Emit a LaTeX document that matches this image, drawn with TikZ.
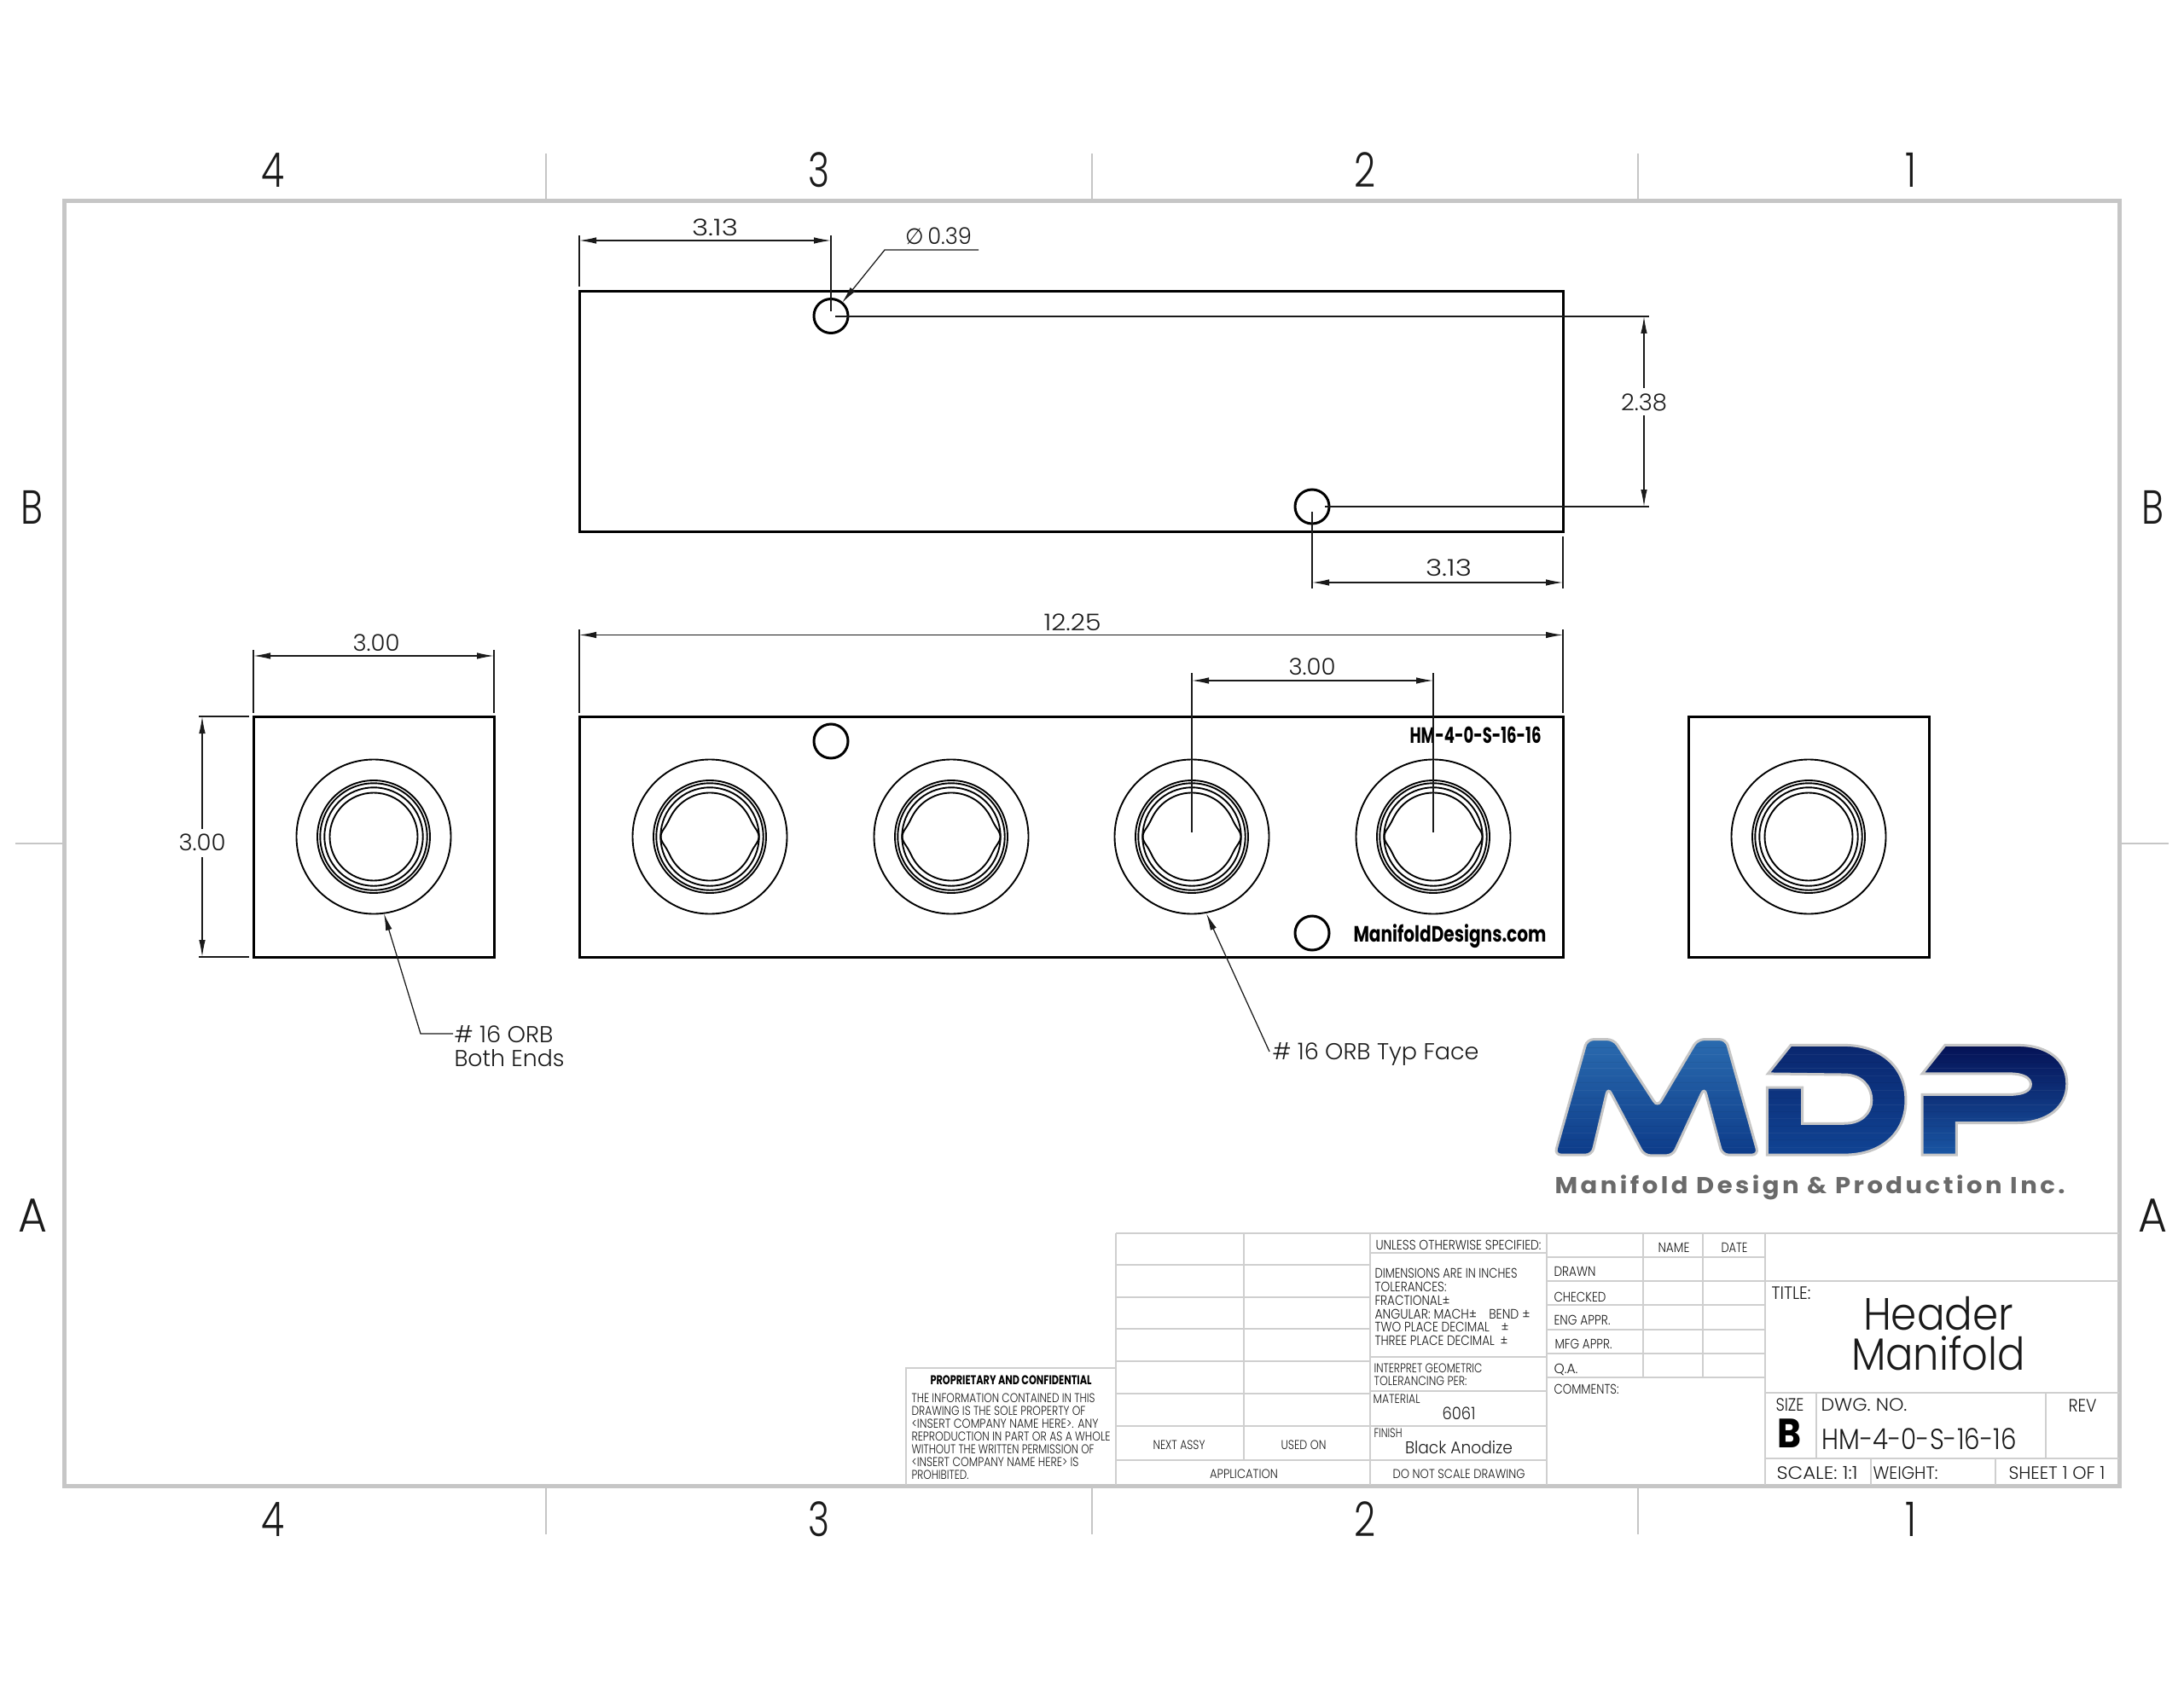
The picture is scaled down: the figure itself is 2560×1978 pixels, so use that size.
\documentclass[tikz,border=0pt]{standalone}
\usepackage{fontspec}
\usepackage{graphicx}
\usetikzlibrary{arrows.meta}
\setmainfont{Poppins}[UprightFont=* Light,BoldFont=* Bold]
\newfontfamily\djv{DejaVu Sans}
\newdimen\pxu \pxu=0.4pt
\newcounter{txt}
\definecolor{frameg}{HTML}{C6C6C6}
\definecolor{blockg}{HTML}{CFCFCF}
\definecolor{inkc}{HTML}{1A1A1A}
\definecolor{logog}{HTML}{6A6A6A}
\definecolor{mtop}{RGB}{43,108,176}
\definecolor{mmid}{RGB}{28,92,168}
\definecolor{mbot}{RGB}{12,58,136}
\definecolor{dtop}{RGB}{10,38,110}
\definecolor{dmid}{RGB}{24,88,166}
\definecolor{dbot}{RGB}{16,68,148}
\definecolor{ptop}{RGB}{4,16,84}
\definecolor{pmid}{RGB}{10,44,122}
\definecolor{pbot}{RGB}{26,88,166}
% x y anchor size(px) width(px) text ; y = middle of the capitals
\newcommand\lbl[6]{%
  \stepcounter{txt}%
  \pgfmathsetlengthmacro\fsz{#4*0.4}%
  \node[anchor=#3,inner sep=0pt,text=inkc] (t\arabic{txt}) at (#1,{#2+0.35*#4+1.5})
    {\fontsize{\fsz}{\fsz}\selectfont\resizebox{#5\pxu}{\height}{#6}};}
\newcommand\lblb[6]{%
  \stepcounter{txt}%
  \pgfmathsetlengthmacro\fsz{#4*0.4}%
  \node[anchor=#3,inner sep=0pt,text=black] (t\arabic{txt}) at (#1,{#2+0.35*#4+1.5})
    {\fontsize{\fsz}{\fsz}\selectfont\resizebox{#5\pxu}{\height}{\bfseries #6}};}
\tikzset{
  objline/.style={draw=black,line width=1.2pt},
  ringline/.style={draw=black,line width=0.75pt},
  dimline/.style={draw=inkc,line width=0.5pt},
  dimarrow/.style={dimline,{Latex[length=8pt,width=3pt]}-{Latex[length=8pt,width=3pt]}},
  leadarrow/.style={dimline,{Latex[length=8pt,width=3pt]}-},
  frameline/.style={draw=frameg,line width=2pt},
  tickline/.style={draw=frameg,line width=0.6pt},
  blockline/.style={draw=blockg,line width=1pt},
  streak/.style={line width=0.35pt},
}
\newcommand\portrings[2]{%
  \draw[ringline] (#1,#2) circle[radius=90.5];
  \draw[ringline] (#1,#2) circle[radius=66];
  \draw[ringline] (#1,#2) circle[radius=62.7];
  \draw[ringline] (#1,#2) circle[radius=57.7];}
\newcommand\portbore[2]{%
  \draw[ringline,shift={(#1,#2)}] plot[domain=0:360,samples=144]
   ({(51.5+6*exp(-pow(sin(\x)/0.21,2)))*cos(\x)},{(51.5+6*exp(-pow(sin(\x)/0.21,2)))*sin(\x)}) -- cycle;}
\newcommand\letterM{(50,460) -- (135,100) -- (205,100) -- (320,310) -- (425,100) -- (500,100) -- (585,460) -- (490,460) -- (443,250) -- (360,462) -- (285,462) -- (190,250) -- (148,460) -- cycle}
\newcommand\letterD{(610,207) -- (670,118) -- (810,118) .. controls (910,118) and (972,190) .. (972,290) .. controls (972,390) and (910,460) .. (810,460) -- (608,460) -- (608,250) -- (700,250) -- (700,362) -- (810,362) .. controls (855,362) and (882,330) .. (882,290) .. controls (882,245) and (855,210) .. (810,210) -- cycle}
\newcommand\letterP{(1015,207) -- (1075,118) -- (1265,118) .. controls (1345,118) and (1395,165) .. (1395,238) .. controls (1395,310) and (1345,360) .. (1265,360) -- (1105,360) -- (1105,460) -- (1015,460) -- (1015,272) -- (1245,272) .. controls (1280,272) and (1300,260) .. (1300,240) .. controls (1300,220) and (1280,207) .. (1245,207) -- cycle}
\newcommand\streaks[2]{%
  \foreach \yy/\cc/\oo in {125/black/.06,148/white/.05,172/black/.05,190/white/.06,214/white/.04,236/black/.05,258/white/.05,282/black/.04,303/white/.06,325/black/.05,347/white/.04,371/black/.05,392/white/.05,414/black/.05,438/white/.04}
    {\draw[streak,draw=\cc,opacity=\oo] (#1,\yy) -- (#2,\yy);}}
\begin{document}
\begin{tikzpicture}[x=0.4pt,y=-0.4pt]
\path[use as bounding box,fill=white] (0,0) rectangle (2560,1978);

% sheet frame and zone marks
\draw[frameline] (75,235.5) rectangle (2484,1742);
\foreach \xx in {640,1280,1920}{
  \draw[tickline] (\xx,180) -- (\xx,235);
  \draw[tickline] (\xx,1742) -- (\xx,1799);}
\draw[tickline] (18,989) -- (75,989);
\draw[tickline] (2484,989) -- (2542,989);
\foreach \xx/\nn/\ww in {320/4/27,960/3/25,1600/2/25,2240/1/13}{
  \lbl{\xx}{198}{base}{56}{\ww}{\nn}
  \lbl{\xx}{1780}{base}{56}{\ww}{\nn}}
\foreach \xx in {38,2523}{
  \lbl{\xx}{593}{base}{56}{26}{B}
  \lbl{\xx}{1423}{base}{56}{34}{A}}

% top view
\draw[objline] (679,341.5) rectangle (1832,623);
\draw[objline] (974,370.5) circle[radius=20];
\draw[objline] (1538,594) circle[radius=20];
\draw[dimline] (679,276) -- (679,336);
\draw[dimline] (974,276) -- (974,365);
\draw[dimarrow] (679,282) -- (974,282);
\lbl{838}{266}{base}{27}{54}{3.13}
\draw[dimline] (979,371) -- (1933,371);
\draw[dimline] (1553,594) -- (1933,594);
\draw[dimline,-{Latex[length=8pt,width=3pt]}] (1147,293) -- (1037,293) -- (987,355);
\lbl{1100}{276}{base}{27}{78}{{\djv\fontsize{10.4pt}{10.4pt}\selectfont ∅}\hspace{2pt}0.39}
\draw[leadarrow] (1927,371) -- (1927,455);
\draw[leadarrow] (1927,594) -- (1927,487);
\lbl{1927}{471}{base}{27}{54}{2.38}
\draw[dimline] (1538,600) -- (1538,690);
\draw[dimline] (1832,629) -- (1832,690);
\draw[dimarrow] (1538,683) -- (1832,683);
\lbl{1698}{665}{base}{27}{54}{3.13}

% front view
\draw[objline] (679,840) rectangle (1832,1122);
\draw[objline] (974,869) circle[radius=20];
\draw[objline] (1538,1094) circle[radius=20];
\foreach \xx in {832,1115,1397,1680}{
  \portrings{\xx}{981}
  \portbore{\xx}{981}}
\lblb{1652}{861}{base west}{26}{154}{HM-4-0-S-16-16}
\lblb{1586}{1094}{base west}{26}{226}{ManifoldDesigns.com}
\draw[dimline] (679,738) -- (679,836);
\draw[dimline] (1832,738) -- (1832,836);
\draw[dimarrow] (679,744.5) -- (1832,744.5);
\lbl{1257}{729}{base}{27}{67}{12.25}
\draw[dimline] (1397,789) -- (1397,976);
\draw[dimline] (1680,789) -- (1680,976);
\draw[dimarrow] (1397,798) -- (1680,798);
\lbl{1538}{781}{base}{27}{55}{3.00}
\draw[leadarrow] (1414,1071) -- (1488,1233);
\lbl{1491}{1232}{base west}{27}{242}{\# 16 ORB Typ Face}

% left end view
\draw[objline] (297,840) rectangle (579,1122);
\portrings{438}{981}
\draw[ringline] (438,981) circle[radius=51.5];
\draw[dimline] (297,762) -- (297,836);
\draw[dimline] (579,762) -- (579,836);
\draw[dimarrow] (297,769) -- (579,769);
\lbl{441}{753}{base}{27}{55}{3.00}
\draw[dimline] (233,840) -- (292,840);
\draw[dimline] (233,1122) -- (292,1122);
\draw[leadarrow] (237,840) -- (237,972);
\draw[leadarrow] (237,1122) -- (237,1005);
\lbl{237}{987}{base}{27}{55}{3.00}
\draw[leadarrow] (450,1071) -- (493,1212) -- (531,1212);
\lbl{532}{1212}{base west}{27}{116}{\# 16 ORB}
\lbl{532}{1240}{base west}{27}{129}{Both Ends}

% right end view
\draw[objline] (1979,840) rectangle (2261,1122);
\portrings{2120}{981}
\draw[ringline] (2120,981) circle[radius=51.5];

% logo
\begin{scope}[shift={(1800,1181)},x=0.17857pt,y=-0.15054pt]
  \begin{scope}
    \clip[rounded corners=3pt] \letterM;
    \shade[top color=mtop,middle color=mmid,bottom color=mbot] (40,90) rectangle (600,470);
    \streaks{40}{600}
  \end{scope}
  \draw[draw=frameg,line width=1.2pt,rounded corners=3pt] \letterM;
  \begin{scope}
    \clip \letterD;
    \shade[top color=dtop,middle color=dmid,bottom color=dbot] (600,110) rectangle (980,470);
    \streaks{600}{980}
  \end{scope}
  \draw[draw=frameg,line width=1.2pt] \letterD;
  \begin{scope}
    \clip \letterP;
    \shade[top color=ptop,middle color=pmid,bottom color=pbot] (1010,110) rectangle (1400,470);
    \streaks{1010}{1400}
  \end{scope}
  \draw[draw=frameg,line width=1.2pt] \letterP;
\end{scope}
\node[anchor=base west,inner sep=0pt,text=logog] (logotext) at (1822,1399.5)
  {\fontsize{10.8pt}{10.8pt}\selectfont\resizebox{598\pxu}{\height}{\bfseries\addfontfeature{LetterSpace=12}Manifold Design \& Production Inc.}};

% title block: left tables
\draw[blockline] (1062,1741) -- (1062,1604) -- (1308,1604);
\draw[blockline] (1308,1446) -- (2484,1446);
\foreach \yy in {1483,1521,1558,1596,1634,1672}{\draw[blockline] (1308,\yy) -- (1606,\yy);}
\draw[blockline] (1308,1712) -- (1813,1712);
\draw[blockline] (1308,1446) -- (1308,1741);
\draw[blockline] (1458,1446) -- (1458,1712);
\draw[blockline] (1606,1446) -- (1606,1741);
\draw[blockline] (1813,1446) -- (1813,1741);
\foreach \yy in {1469,1591,1631,1672}{\draw[blockline] (1606,\yy) -- (1813,\yy);}
\foreach \yy in {1474,1502,1530,1559,1587,1615}{\draw[blockline] (1813,\yy) -- (2069,\yy);}
\draw[blockline] (1926,1446) -- (1926,1615);
\draw[blockline] (1996,1446) -- (1996,1615);
\draw[blockline] (2069,1446) -- (2069,1741);
\draw[blockline] (2069,1502) -- (2484,1502);
\draw[blockline] (2069,1633) -- (2484,1633);
\draw[blockline] (2069,1710) -- (2484,1710);
\draw[blockline] (2129,1633) -- (2129,1710);
\draw[blockline] (2398,1633) -- (2398,1710);
\draw[blockline] (2193,1710) -- (2193,1741);
\draw[blockline] (2339,1710) -- (2339,1741);

\lblb{1185}{1617}{base}{15}{189}{PROPRIETARY AND CONFIDENTIAL}
\lbl{1068}{1638}{base west}{15}{215}{THE INFORMATION CONTAINED IN THIS}
\lbl{1068}{1653}{base west}{15}{204}{DRAWING IS THE SOLE PROPERTY OF}
\lbl{1068}{1668}{base west}{15}{219}{<INSERT COMPANY NAME HERE>.  ANY}
\lbl{1068}{1683}{base west}{15}{233}{REPRODUCTION IN PART OR AS A WHOLE}
\lbl{1068}{1698}{base west}{15}{214}{WITHOUT THE WRITTEN PERMISSION OF}
\lbl{1068}{1713}{base west}{15}{196}{<INSERT COMPANY NAME HERE> IS}
\lbl{1068}{1728}{base west}{15}{67}{PROHIBITED.}

\lbl{1612}{1458}{base west}{16}{194}{UNLESS OTHERWISE SPECIFIED:}
\lbl{1611}{1491}{base west}{16}{167}{DIMENSIONS ARE IN INCHES}
\lbl{1611}{1507}{base west}{16}{84}{TOLERANCES:}
\lbl{1611}{1523}{base west}{16}{88}{FRACTIONAL±}
\lbl{1611}{1539}{base west}{16}{182}{ANGULAR: MACH±\hspace{1em}BEND ±}
\lbl{1611}{1554}{base west}{16}{157}{TWO PLACE DECIMAL\hspace{1em}±}
\lbl{1611}{1570}{base west}{16}{156}{THREE PLACE DECIMAL\hspace{0.5em}±}
\lbl{1610}{1603}{base west}{15}{127}{INTERPRET GEOMETRIC}
\lbl{1610}{1618}{base west}{15}{109}{TOLERANCING PER:}
\lbl{1609}{1639}{base west}{15}{55}{MATERIAL}
\lbl{1710}{1656}{base}{20}{39}{6061}
\lbl{1610}{1679}{base west}{15}{33}{FINISH}
\lbl{1710}{1696}{base}{20}{126}{Black Anodize}
\lbl{1382}{1693}{base}{15}{61}{NEXT ASSY}
\lbl{1528}{1693}{base}{15}{53}{USED ON}
\lbl{1458}{1727}{base}{15}{80}{APPLICATION}
\lbl{1710}{1727}{base}{15}{155}{DO NOT SCALE DRAWING}

\lbl{1962}{1461}{base}{16}{37}{NAME}
\lbl{2033}{1461}{base}{16}{31}{DATE}
\lbl{1821}{1489}{base west}{16}{49}{DRAWN}
\lbl{1821}{1519}{base west}{16}{61}{CHECKED}
\lbl{1821}{1546}{base west}{16}{66}{ENG APPR.}
\lbl{1822}{1574}{base west}{16}{67}{MFG APPR.}
\lbl{1821}{1603}{base west}{16}{28}{Q.A.}
\lbl{1821}{1627}{base west}{16}{76}{COMMENTS:}

\lbl{2076}{1515}{base west}{21}{46}{TITLE:}
\lbl{2272}{1539}{base}{53}{176}{Header}
\lbl{2272}{1586}{base}{53}{204}{Manifold}
\lbl{2081}{1646}{base west}{21}{33}{SIZE}
\lblb{2097}{1679}{base}{48}{28}{B}
\lbl{2134}{1646}{base west}{21}{101}{DWG.  NO.}
\lbl{2135}{1686}{base west}{34}{228}{HM-4-0-S-16-16}
\lbl{2441}{1647}{base}{21}{33}{REV}
\lbl{2082}{1726}{base west}{21}{95}{SCALE: 1:1}
\lbl{2195}{1726}{base west}{21}{76}{WEIGHT:}
\lbl{2354}{1726}{base west}{21}{113}{SHEET 1 OF 1}
\end{tikzpicture}
\end{document}
